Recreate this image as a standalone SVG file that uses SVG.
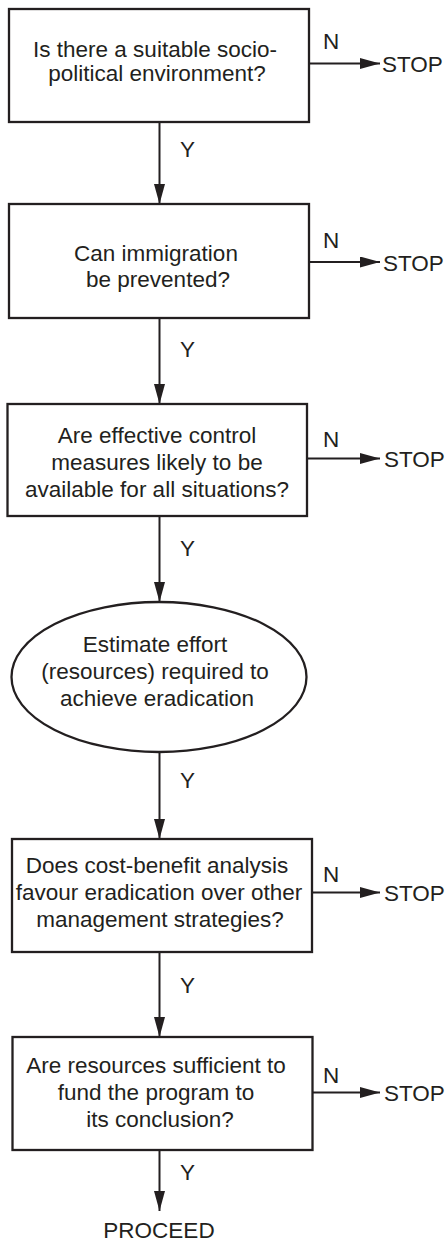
<svg xmlns="http://www.w3.org/2000/svg" width="447" height="1243" viewBox="0 0 447 1243">
<style>
.box{fill:#fff;stroke:#231f20;stroke-width:2.3}
.t{font-family:"Liberation Sans",Arial,sans-serif;font-size:22.5px;fill:#231f20;text-anchor:middle}
.l{font-family:"Liberation Sans",Arial,sans-serif;font-size:22.5px;fill:#231f20}
.c{stroke:#231f20;stroke-width:2;fill:none;marker-end:url(#ah)}
</style>
<defs>
<marker id="ah" viewBox="0 0 20 11" refX="20" refY="5.5" markerWidth="20" markerHeight="11" markerUnits="userSpaceOnUse" orient="auto">
<path d="M0,0 L20,5.5 L0,11 Z" fill="#231f20"/>
</marker>
</defs>
<rect width="447" height="1243" fill="#fff"/>
<g id="connectors">
<line class="c" x1="309" y1="63.5" x2="380" y2="63.5"/>
<line class="c" x1="159.5" y1="122" x2="159.5" y2="204"/>
<line class="c" x1="309" y1="262" x2="380" y2="262"/>
<line class="c" x1="159.5" y1="318" x2="159.5" y2="404"/>
<line class="c" x1="307" y1="458.5" x2="380" y2="458.5"/>
<line class="c" x1="159.5" y1="516" x2="159.5" y2="602"/>
<line class="c" x1="159.5" y1="752" x2="159.5" y2="839"/>
<line class="c" x1="312" y1="892.5" x2="380" y2="892.5"/>
<line class="c" x1="159.5" y1="952" x2="159.5" y2="1037"/>
<line class="c" x1="313" y1="1092.5" x2="380" y2="1092.5"/>
<line class="c" x1="159.5" y1="1150" x2="159.5" y2="1211"/>
<text class="l" x="323" y="49">N</text>
<text class="l" x="382" y="71.5">STOP</text>
<text class="l" x="180" y="157">Y</text>
<text class="l" x="323" y="248">N</text>
<text class="l" x="383" y="270.5">STOP</text>
<text class="l" x="180" y="357">Y</text>
<text class="l" x="323" y="447">N</text>
<text class="l" x="384" y="467">STOP</text>
<text class="l" x="180" y="556">Y</text>
<text class="l" x="180" y="788">Y</text>
<text class="l" x="323" y="882">N</text>
<text class="l" x="384" y="901">STOP</text>
<text class="l" x="180" y="993">Y</text>
<text class="l" x="323" y="1083">N</text>
<text class="l" x="384" y="1101">STOP</text>
<text class="l" x="180" y="1180">Y</text>
</g>
<g id="n1">
<rect class="box" x="9" y="9" width="300" height="113"/>
<text class="t" x="155" y="57">Is there a suitable socio-</text>
<text class="t" x="157" y="81">political environment?</text>
</g>
<g id="n2">
<rect class="box" x="9" y="204" width="300" height="114"/>
<text class="t" x="156" y="261">Can immigration</text>
<text class="t" x="158" y="287">be prevented?</text>
</g>
<g id="n3">
<rect class="box" x="7.5" y="404" width="299.5" height="112"/>
<text class="t" x="157" y="443">Are effective control</text>
<text class="t" x="157" y="470">measures likely to be</text>
<text class="t" x="157" y="497">available for all situations?</text>
</g>
<g id="n4">
<ellipse class="box" cx="159" cy="677" rx="147.5" ry="75"/>
<text class="t" x="155" y="652">Estimate effort</text>
<text class="t" x="155" y="679">(resources) required to</text>
<text class="t" x="157" y="706">achieve eradication</text>
</g>
<g id="n5">
<rect class="box" x="12" y="839" width="300" height="113"/>
<text class="t" x="157" y="873">Does cost-benefit analysis</text>
<text class="t" x="159" y="900">favour eradication over other</text>
<text class="t" x="160" y="927">management strategies?</text>
</g>
<g id="n6">
<rect class="box" x="12.5" y="1037" width="300" height="113"/>
<text class="t" x="156" y="1073">Are resources sufficient to</text>
<text class="t" x="156" y="1100">fund the program to</text>
<text class="t" x="160" y="1127">its conclusion?</text>
</g>
<g id="n7">
<text class="t" x="159" y="1238">PROCEED</text>
</g>
</svg>
